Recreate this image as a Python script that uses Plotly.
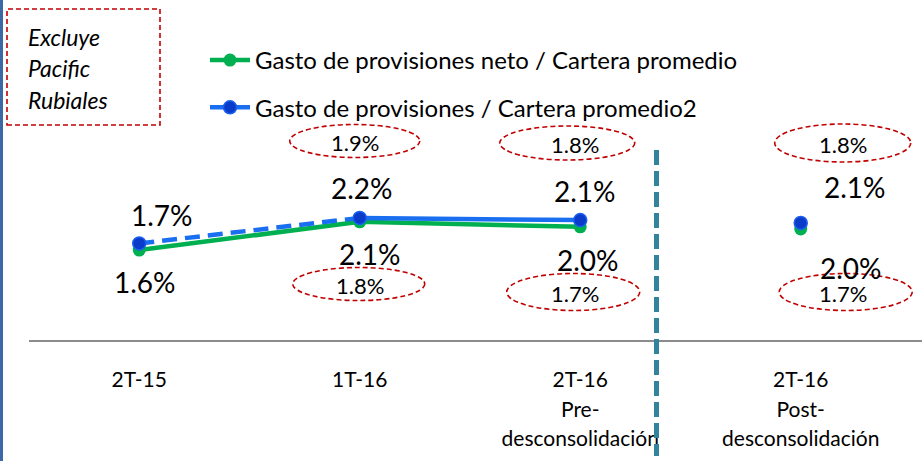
import plotly.graph_objects as go

# ---------------- data ----------------
categories = ["2T-15", "1T-16", "2T-16<br>Pre-<br>desconsolidación", "2T-16<br>Post-<br>desconsolidación"]
neto = [1.62, 2.13, 2.04, 2.00]          # Gasto de provisiones neto / Cartera promedio
gasto = [1.74, 2.20, 2.16, 2.11]         # Gasto de provisiones / Cartera promedio2
neto_labels = ["1.6%", "2.1%", "2.0%", "2.0%"]
gasto_labels = ["1.7%", "2.2%", "2.1%", "2.1%"]
# values in the red dashed ellipses (excluding Pacific Rubiales)
excl_top = [None, "1.9%", "1.8%", "1.8%"]
excl_bottom = [None, "1.8%", "1.7%", "1.7%"]
series_names = ["Gasto de provisiones neto / Cartera promedio", "Gasto de provisiones / Cartera promedio2"]
note_lines = ["Excluye", "Pacific", "Rubiales"]

# ---------------- geometry / style ----------------
W, H = 922, 461
ML, MR, MT, MB = 29, 0, 0, 121
PW, PH = W - ML - MR, H - MT - MB
XR = [-0.5, 3.55]
YR = [0, 6.126]
FONT = "Lato"
GREEN = "#00b050"
BLUE_LINE = "#1a6ff0"
BLUE_MK = "#0b3cc9"
RED = "#c00000"

pos = list(range(len(categories)))


def px_x(px):
    return (px - ML) / PW


def px_y(py):
    return 1 - (py - MT) / PH


def cat_px(i):
    return ML + (pos[i] - XR[0]) / (XR[1] - XR[0]) * PW


def tick_text(c):
    return "<br>".join(f'<span style="font-size:21px">{s}</span>' for s in c.split("<br>"))


fig = go.Figure()

# green series
fig.add_trace(go.Scatter(x=pos[:3], y=neto[:3], mode="lines+markers", name=series_names[0],
                         legendgroup="a",
                         line=dict(color=GREEN, width=4.5),
                         marker=dict(color=GREEN, size=13)))
fig.add_trace(go.Scatter(x=pos[3:], y=neto[3:], mode="markers", showlegend=False,
                         marker=dict(color=GREEN, size=13)))
# blue series
fig.add_trace(go.Scatter(x=pos[:2], y=gasto[:2], mode="lines", showlegend=False,
                         line=dict(color=BLUE_LINE, width=4.5, dash="15px,8px")))
fig.add_trace(go.Scatter(x=pos[1:3], y=gasto[1:3], mode="lines+markers", name=series_names[1],
                         legendgroup="b",
                         line=dict(color=BLUE_LINE, width=4.5),
                         marker=dict(color=BLUE_MK, size=13, line=dict(color="#1a5ff0", width=1.5))))
fig.add_trace(go.Scatter(x=[pos[0], pos[3]], y=[gasto[0], gasto[3]], mode="markers", showlegend=False,
                         marker=dict(color=BLUE_MK, size=13, line=dict(color="#1a5ff0", width=1.5))))

annotations = []
shapes = []

# data labels
gasto_off = [(23, -28), (2, -30), (5, -29), (54, -36)]
neto_off = [(6, 32), (10, 32), (8, 33), (50, 39)]
for i in pos:
    annotations.append(dict(x=pos[i], y=gasto[i], xref="x", yref="y", text=gasto_labels[i],
                            showarrow=False, xanchor="center", yanchor="middle",
                            xshift=gasto_off[i][0], yshift=-gasto_off[i][1],
                            font=dict(family=FONT, size=28, color="black")))
    annotations.append(dict(x=pos[i], y=neto[i], xref="x", yref="y", text=neto_labels[i],
                            showarrow=False, xanchor="center", yanchor="middle",
                            xshift=neto_off[i][0], yshift=-neto_off[i][1],
                            font=dict(family=FONT, size=28, color="black")))

# ellipses with excluded values
top_geo = [None, (-5, 141, 130, 33, 0), (-13, 143, 135, 34, 8), (42, 143, 136, 38, 0)]
bot_geo = [None, (-1, 284, 132, 33, 1), (-7, 292, 133, 37, 2), (45, 292, 133, 37, -3)]
for labels, geo in ((excl_top, top_geo), (excl_bottom, bot_geo)):
    for i in pos:
        if labels[i] is None:
            continue
        dx, cy, w, h, tdx = geo[i]
        cx = cat_px(i) + dx
        shapes.append(dict(type="circle", xref="paper", yref="paper",
                           x0=px_x(cx - w / 2), x1=px_x(cx + w / 2),
                           y0=px_y(cy + h / 2), y1=px_y(cy - h / 2),
                           line=dict(color=RED, width=1.6, dash="5px,3px")))
        annotations.append(dict(x=px_x(cx + tdx), y=px_y(cy + 1), xref="paper", yref="paper",
                                text=labels[i], showarrow=False, xanchor="center", yanchor="middle",
                                font=dict(family=FONT, size=22, color="black")))

# note box
shapes.append(dict(type="rect", xref="paper", yref="paper",
                   x0=px_x(7), x1=px_x(160), y0=px_y(125), y1=px_y(9),
                   line=dict(color=RED, width=1.6, dash="5px,3px")))
for k, t in enumerate(note_lines):
    annotations.append(dict(x=px_x(26), y=px_y(37 + 31.5 * k), xref="paper", yref="paper",
                            text=f"<i>{t}</i>", showarrow=False, xanchor="left", yanchor="middle",
                            font=dict(family=FONT, size=23, color="black")))

# vertical dashed separator
shapes.append(dict(type="line", xref="paper", yref="paper",
                   x0=px_x(656.5), x1=px_x(656.5), y0=px_y(150), y1=px_y(456),
                   line=dict(color="#31849b", width=5, dash="15px,6px")))
# left edge bar
shapes.append(dict(type="rect", xref="paper", yref="paper",
                   x0=px_x(0), x1=px_x(3), y0=px_y(H), y1=px_y(0),
                   line=dict(width=0), fillcolor="#3c69a5"))

fig.update_layout(
    width=W, height=H,
    margin=dict(l=ML, r=MR, t=MT, b=MB),
    paper_bgcolor="white", plot_bgcolor="white",
    font=dict(family=FONT, color="black"),
    showlegend=True,
    legend=dict(x=px_x(205), y=px_y(38), xanchor="left", yanchor="top",
                bgcolor="rgba(0,0,0,0)", font=dict(family=FONT, size=24, color="black"),
                tracegroupgap=13, itemwidth=40),
    xaxis=dict(range=XR, tickvals=pos, ticktext=[tick_text(c) for c in categories],
               showgrid=False, zeroline=False,
               showline=True, linecolor="#8c8c8c", linewidth=2, ticks="",
               tickfont=dict(family=FONT, size=23, color="black"), ticklabelstandoff=17,
               fixedrange=True),
    yaxis=dict(range=YR, visible=False, fixedrange=True),
    annotations=annotations,
    shapes=shapes,
)

fig.write_html("out.html", config={"displayModeBar": False},
               post_script="document.body.style.margin='0px';")
